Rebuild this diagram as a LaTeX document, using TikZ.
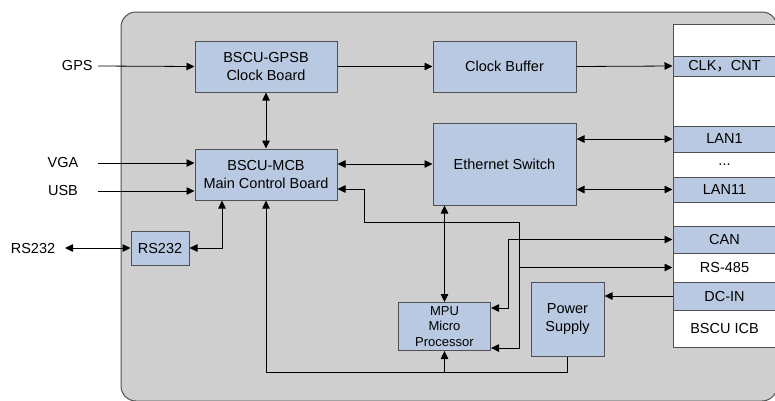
\documentclass[tikz,border=0pt]{standalone}
\usepackage{fontspec}
\setmainfont{Liberation Sans}
\newfontfamily\cjk{Noto Sans CJK SC}
\usepackage{tikz}
\usetikzlibrary{arrows.meta, calc, positioning}

\definecolor{boardgray}{HTML}{CFCFCF}
\definecolor{boxblue}{HTML}{B8C9E1}
\definecolor{edgegray}{HTML}{505050}

\begin{document}
\begin{tikzpicture}[x=1pt,y=-1pt,>={Triangle[length=8pt,width=7.5pt]},line width=0.8pt,
	font=\fontsize{14.5}{17.3}\selectfont]
	\tikzset{board/.style={draw=edgegray,fill=boxblue,line width=1pt,align=center,inner sep=0pt},
		slot/.style={board,minimum width=103pt},
		blank/.style={slot,fill=white},
		ext/.style={inner sep=0pt}}
	\useasboundingbox (0,0) rectangle (775,400);
	\clip (0,0) rectangle (775,400);
	% housing
	\draw[draw=edgegray,fill=boardgray,line width=1pt,rounded corners=15pt] (121,12) rectangle (777,401);
	\draw[draw=edgegray,fill=white,line width=1pt] (673,24) rectangle (780,347);
	% boards
	\node[board, minimum width=142pt, minimum height=51pt] (gpsb) at (266,66.5) {BSCU-GPSB\\Clock Board};
	\node[board, minimum width=143pt, minimum height=51pt] (clkbuf) at (504.5,66.5) {Clock Buffer};
	\node[board, minimum width=142pt, minimum height=51pt] (mcb) at (266,174.5) {BSCU-MCB\\Main Control Board};
	\node[board, minimum width=143pt, minimum height=82pt] (eth) at (504.5,164) {Ethernet Switch};
	\node[board, minimum width=58pt, minimum height=34pt] (rsbox) at (160,248) {RS232};
	\node[board, minimum width=92pt, minimum height=48pt, font=\fontsize{13}{15.7}\selectfont] (mpu) at (444.5,326.5) {MPU\\Micro\\Processor};
	\node[board, minimum width=73pt, minimum height=74pt] (psu) at (567.5,319) {Power\\Supply};
	% interface slots
	\node[slot, minimum height=20pt] (clk) at (724.5,66) {CLK{\cjk ，}CNT};
	\node[slot, minimum height=26pt] (lan1) at (724.5,139) {LAN1};
	\node[blank, minimum height=25pt] (dots) at (724.5,164.5) {...};
	\node[slot, minimum height=25pt] (lan11) at (724.5,189.5) {LAN11};
	\node[slot, minimum height=27pt] (can) at (724.5,239.5) {CAN};
	\node[blank, minimum height=29pt] (rs485) at (724.5,267.5) {RS-485};
	\node[slot, minimum height=28pt] (dcin) at (724.5,296) {DC-IN};
	\node[blank, minimum height=37pt] (icb) at (724.5,328.5) {BSCU ICB};
	% outside signals
	\node[ext, anchor=east] (gps) at (93,66) {GPS};
	\node[ext] (vga) at (63,163) {VGA};
	\node[ext] (usb) at (63,191) {USB};
	\node[ext] (rsout) at (33,248) {RS232};
	\coordinate (gpsin) at (98,66);
	\coordinate (vgain) at (98,163);
	\coordinate (usbin) at (98,191);
	\coordinate (rsend) at (65,248);
	% links
	\draw[->] (gpsin) -- (gpsb.west);
	\draw[->] (vgain) -- (vgain -| mcb.west);
	\draw[->] (usbin) -- (usbin -| mcb.west);
	\draw[<->] (rsend) -- (rsbox.west);
	\draw[<->] (rsbox.east) -| ([xshift=-44pt]mcb.south);
	\draw[->] (gpsb.east) -- (clkbuf.west);
	\draw[->] (clkbuf.east) -- (clk.west);
	\draw[<->] (gpsb.south) -- (mcb.north);
	\draw[<->] (mcb.east |- eth.west) -- (eth.west);
	\draw[<->] (eth.east |- lan1.west) -- (lan1.west);
	\draw[<->] (eth.east |- lan11.west) -- (lan11.west);
	\draw[<->] (mpu.north) -- (mpu.north |- eth.south);
	\draw[<->] (mcb.east |- 0,189) -- (364,189) |- (519,222) |- (mpu.east |- 0,348);
	\draw[->] (519,267.5) -- (rs485.west);
	\draw[<->] (mpu.east |- 0,308) -- (508,308) |- (can.west);
	\draw[->] (dcin.west) -- (dcin.west -| psu.east);
	\draw[->] (psu.south) -- ++(0,16) -| (mcb.south);
	\draw[->] (mpu.south |- 0,372) -- (mpu.south);
\end{tikzpicture}
\end{document}
